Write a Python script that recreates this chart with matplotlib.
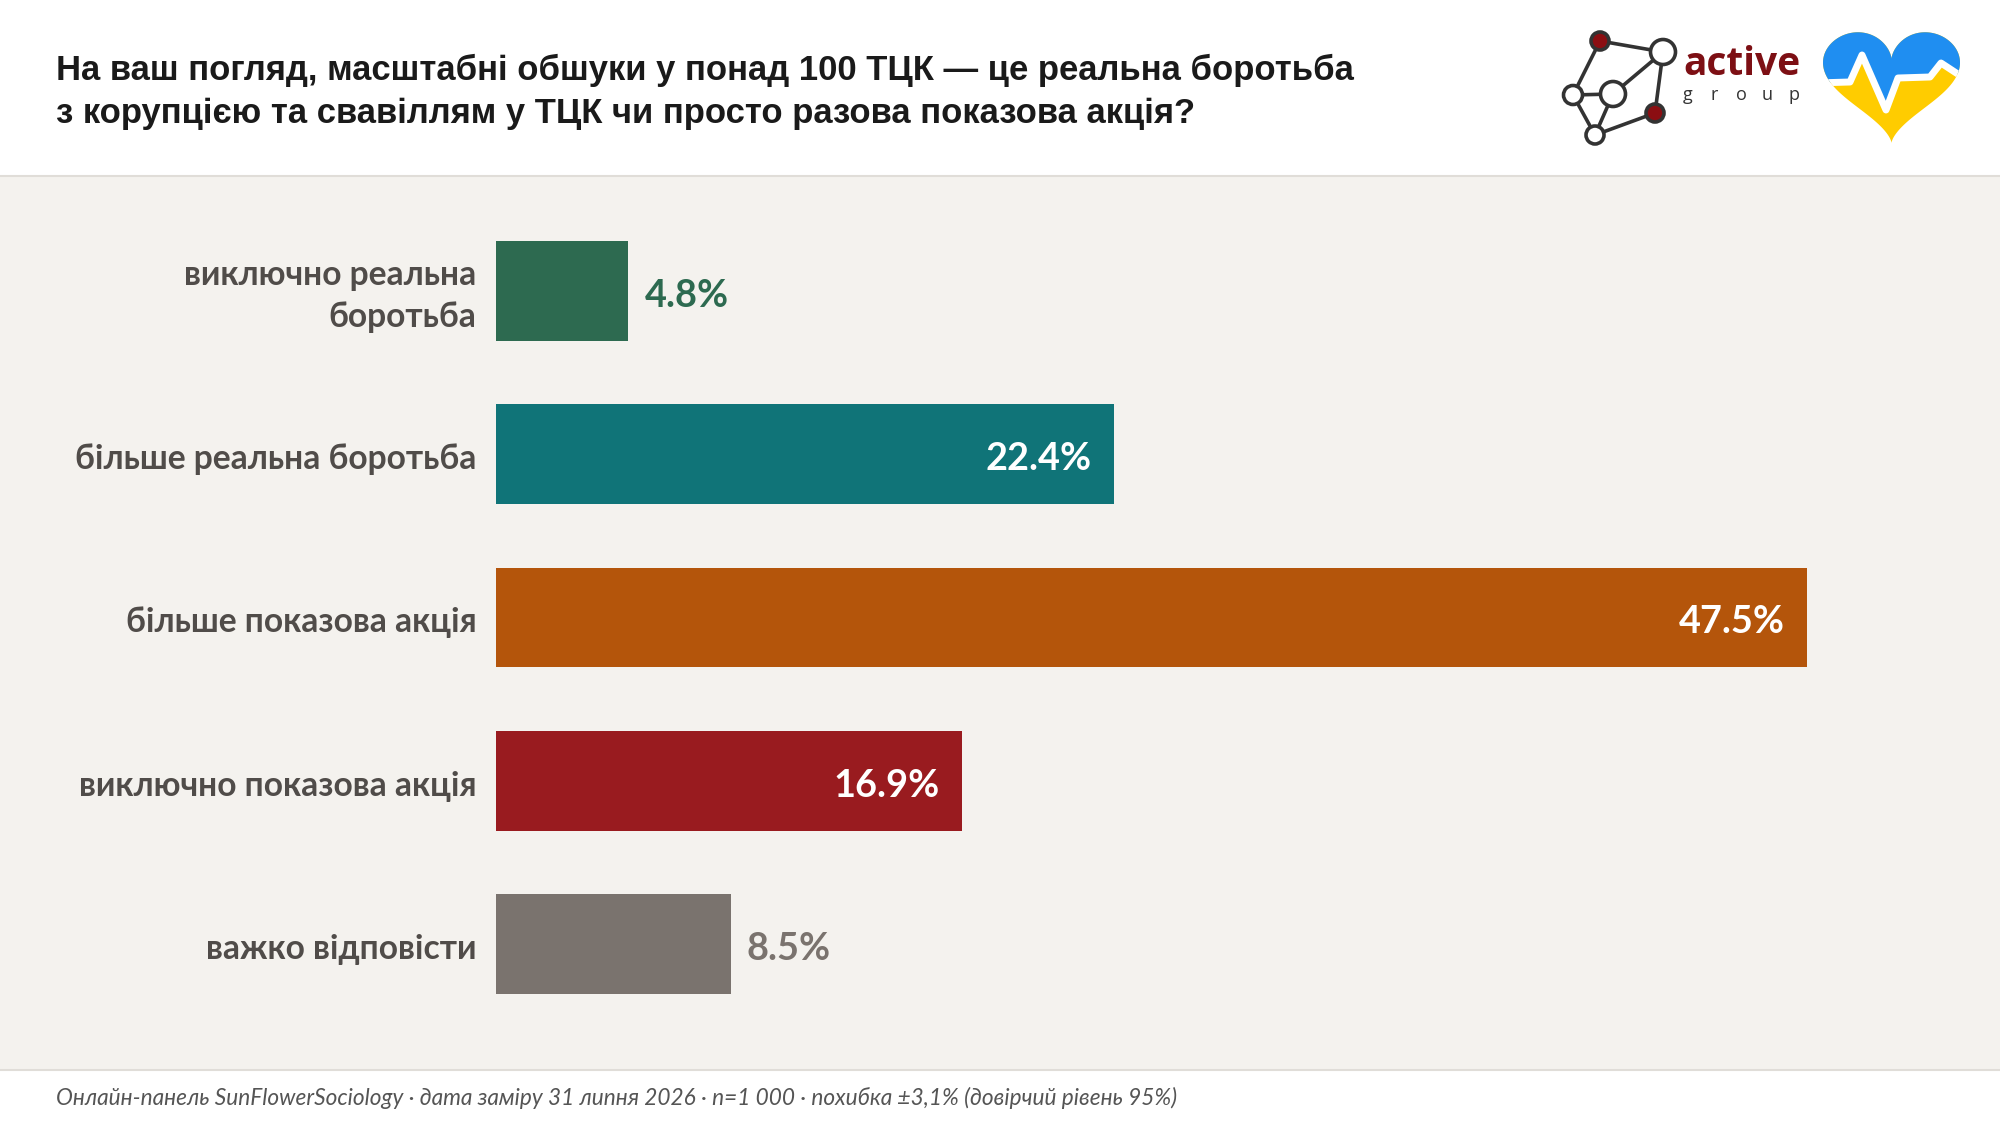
import numpy as np
import matplotlib.pyplot as plt
from matplotlib.patches import Rectangle, Circle, Polygon
from matplotlib.lines import Line2D

# data
categories = ['виключно реальна\nборотьба', 'більше реальна боротьба',
              'більше показова акція', 'виключно показова акція', 'важко відповісти']
values = [4.8, 22.4, 47.5, 16.9, 8.5]
colors = ['#2d6a50', '#107478', '#b4550b', '#991b1f', '#7a736e']
inside = [False, True, True, True, False]

title = ('На ваш погляд, масштабні обшуки у понад 100 ТЦК — це реальна боротьба\n'
         'з корупцією та свавіллям у ТЦК чи просто разова показова акція?')
footer = ('Онлайн-панель SunFlowerSociology · дата заміру 31 липня 2026 · n=1 000 · '
          'похибка ±3,1% (довірчий рівень 95%)')

W, H = 2000, 1126
fig = plt.figure(figsize=(W / 100, H / 100), dpi=100)
fig.patch.set_facecolor('white')

def fx(px):
    return px / W

def fy(py):
    return 1 - py / H

# panel background + separators
fig.patches.append(Rectangle((0, fy(1070)), 1, fy(176) - fy(1070), transform=fig.transFigure,
                             facecolor='#f4f2ee', edgecolor='none', zorder=-2))
for yy in (176, 1070):
    fig.lines.append(Line2D([0, 1], [fy(yy), fy(yy)], transform=fig.transFigure,
                            color='#e0ddd8', lw=1.5, zorder=-1))

# title
fig.text(fx(56), fy(92), title, ha='left', va='center', fontsize=24.9, fontweight='bold',
         family='Liberation Sans', color='#1a1a1a', linespacing=1.38)

# footer
fig.text(fx(56), fy(1098), footer, ha='left', va='center', fontsize=16.3, style='italic',
         family='Lato', color='#555555')

# bars
px_per_unit = 27.6
left_px = 496
ax = fig.add_axes([fx(left_px), fy(1025.6), 50 * px_per_unit / W, 816.2 / H])
ax.set_facecolor('none')
y = np.arange(len(values))
ax.barh(y, values, height=0.6125, color=colors, edgecolor='none', zorder=2)
ax.set_xlim(0, 50)
ax.set_ylim(len(values) - 0.5, -0.5)
ax.axis('off')

for i, (v, c) in enumerate(zip(values, colors)):
    if inside[i]:
        ax.annotate(f'{v}%', (v, i), xytext=(-16, -3.5), textcoords='offset points',
                    ha='right', va='center', fontsize=27.3, fontweight='bold',
                    family='Lato', color='white')
    else:
        ax.annotate(f'{v}%', (v, i), xytext=(11.5, -3.5), textcoords='offset points',
                    ha='left', va='center', fontsize=27.3, fontweight='bold',
                    family='Lato', color=c)
    ax.annotate(categories[i], (0, i), xytext=(-14, -3.5), textcoords='offset points',
                ha='right', va='center', fontsize=24.2, fontweight='bold',
                family='Lato', color='#504c49', linespacing=1.38)

# logo: active group network
lg = fig.add_axes([fx(1540), fy(170), 460 / W, 170 / H])
lg.set_facecolor('none')
lg.set_xlim(1540, 2000)
lg.set_ylim(170, 0)
lg.set_aspect('equal')
lg.axis('off')
nodes = {
    'r1': (1600, 41, 9, '#8b0e12'),
    'w1': (1663, 52, 12.5, 'white'),
    'wl': (1573, 95, 9.5, 'white'),
    'wm': (1613, 94, 12.5, 'white'),
    'r2': (1655, 113, 9, '#8b0e12'),
    'wb': (1595, 135, 9, 'white'),
}
edges = [('r1', 'w1'), ('r1', 'wl'), ('wl', 'wm'), ('wm', 'w1'), ('w1', 'r2'),
         ('wl', 'wb'), ('wm', 'wb'), ('wb', 'r2')]
for a, b in edges:
    lg.plot([nodes[a][0], nodes[b][0]], [nodes[a][1], nodes[b][1]], color='#333333', lw=2.6,
            zorder=1, solid_capstyle='round')
for name, (cx, cy, r, fc) in nodes.items():
    lg.add_patch(Circle((cx, cy), r, facecolor=fc, edgecolor='#333333', lw=2.6, zorder=2))
lg.text(1683, 75, 'active', ha='left', va='baseline', fontsize=28, fontweight='bold',
        family='Open Sans', color='#7d0f14')
for k, ch in enumerate('group'):
    lg.text(1688 + k * 26.5, 100, ch, ha='center', va='baseline', fontsize=13,
            family='Open Sans', color='#333333')

# logo: heart
t = np.linspace(0, 2 * np.pi, 400)
hx = 16 * np.sin(t) ** 3
hy = 13 * np.cos(t) - 5 * np.cos(2 * t) - 2 * np.cos(3 * t) - np.cos(4 * t)
hx = 1891.5 + hx / 16 * 68.5
hy = 87.5 - (hy + 2.5) * 3.83
heart = Polygon(np.column_stack([hx, hy]), closed=True, facecolor='#ffcc00', edgecolor='none')
lg.add_patch(heart)
ecg_x = [1815, 1850, 1862, 1886, 1898, 1930, 1941, 1970]
ecg_y = [83, 82, 55, 110, 78, 77, 63, 82]
blue = Polygon(np.column_stack([ecg_x + [1970, 1815], ecg_y + [10, 10]]), closed=True,
               facecolor='#1f8ef1', edgecolor='none')
lg.add_patch(blue)
blue.set_clip_path(heart)
ecg, = lg.plot(ecg_x, ecg_y, color='white', lw=5, solid_joinstyle='round')
ecg.set_clip_path(heart)

fig.savefig('out.png', dpi=100, facecolor=fig.get_facecolor())
